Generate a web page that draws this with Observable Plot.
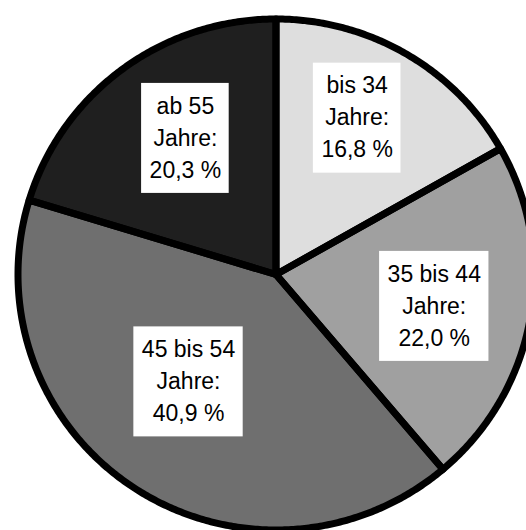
<!DOCTYPE html>
<html>
<head>
<meta charset="utf-8">
<script src="https://cdn.jsdelivr.net/npm/d3@7"></script>
<script src="https://cdn.jsdelivr.net/npm/@observablehq/plot@0.6"></script>
<style>
  html, body { margin: 0; padding: 0; background: white; overflow: hidden; }
  #chart { width: 526px; height: 530px; }
</style>
</head>
<body>
<div id="chart"></div>
<script>
// ---- data ----
const categories = ["bis 34", "35 bis 44", "45 bis 54", "ab 55"];
const shares = [16.8, 22.0, 40.9, 20.3];
const unitLabel = "Jahre:";

// ---- styles / layout ----
const sliceColors = ["#dedede", "#a0a0a0", "#6f6f6f", "#1f1f1f"];
const labelRadius = [0.688, 0.626, 0.54, 0.638];   // fraction of pie radius
const labelAngleFrac = [0.45, 0.518, 0.538, 0.543]; // position within slice angle
const fontSize = 23;
const fontFamily = "'Liberation Sans', Arial, Helvetica, sans-serif";

const fmt = v => v.toFixed(1).replace(".", ",") + " %";
const arcs = d3.pie().sort(null).value(d => d)(shares);

// slice outlines as polygons in unit-circle coordinates
const slicePts = [];
arcs.forEach((a, i) => {
  const cat = categories[i];
  slicePts.push({cat, x: 0, y: 0});
  const n = Math.max(2, Math.ceil((a.endAngle - a.startAngle) / (Math.PI / 360)));
  for (let k = 0; k <= n; k++) {
    const t = a.startAngle + (a.endAngle - a.startAngle) * k / n;
    slicePts.push({cat, x: Math.sin(t), y: Math.cos(t)});
  }
  slicePts.push({cat, x: 0, y: 0});
});

// label boxes
const ctx = document.createElement("canvas").getContext("2d");
ctx.font = `${fontSize}px ${fontFamily}`;
const labels = arcs.map((a, i) => {
  const t = a.startAngle + (a.endAngle - a.startAngle) * labelAngleFrac[i];
  const lines = [categories[i], unitLabel, fmt(shares[i])];
  const w = d3.max(lines, s => ctx.measureText(s).width);
  return {
    cat: categories[i],
    x: labelRadius[i] * Math.sin(t),
    y: labelRadius[i] * Math.cos(t),
    text: lines.join("\n"),
    hw: w / 2 + 8
  };
});

const chart = Plot.plot({
  width: 526,
  height: 530,
  margin: 0,
  x: {domain: [-1, 1], range: [17.5, 533.5], axis: null},
  y: {domain: [-1, 1], range: [529.5, 18.5], axis: null},
  color: {domain: categories, range: sliceColors},
  style: {background: "white"},
  marks: [
    Plot.line(slicePts, {x: "x", y: "y", z: "cat", fill: "cat", stroke: "none", curve: "linear"}),
    Plot.line(slicePts, {x: "x", y: "y", z: "cat", stroke: "black", strokeWidth: 7, strokeLinejoin: "round", fill: "none"}),
    ...labels.map(d => Plot.rect([d], {
      x1: "x", x2: "x", y1: "y", y2: "y", fill: "white",
      insetLeft: -d.hw, insetRight: -d.hw, insetTop: -55, insetBottom: -55
    })),
    Plot.text(labels, {
      x: "x", y: "y", text: "text", fontSize, fontFamily,
      lineHeight: 1.39, fill: "black", dy: -3
    })
  ]
});
document.getElementById("chart").appendChild(chart);
</script>
</body>
</html>
